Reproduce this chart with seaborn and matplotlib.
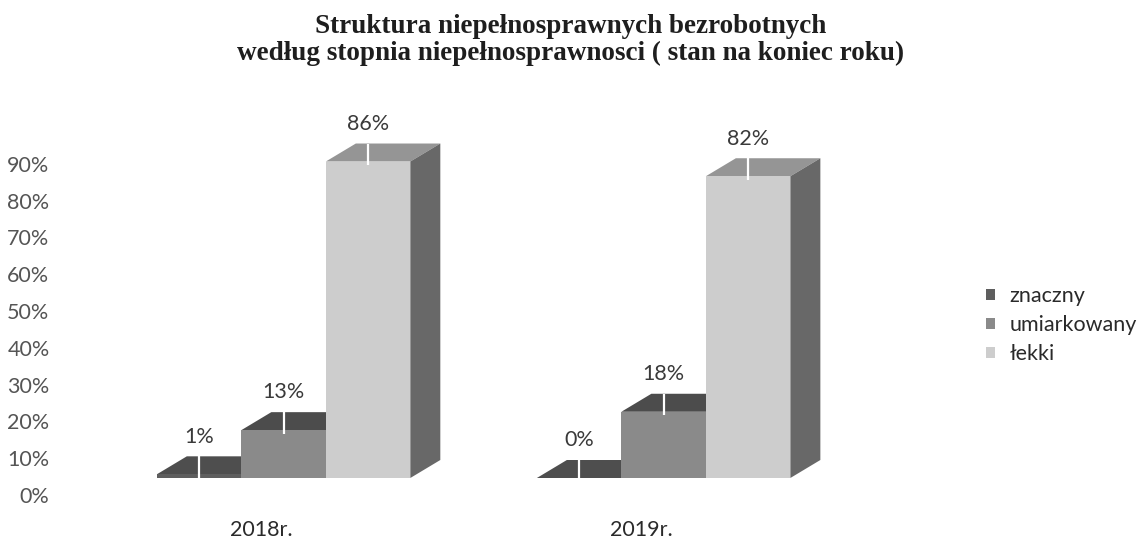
import matplotlib
matplotlib.use("Agg")
import matplotlib.pyplot as plt
import matplotlib.transforms as mtransforms
from matplotlib.patches import Polygon
import seaborn as sns
import pandas as pd

# ---- data ----
years = ["2018r.", "2019r."]
levels = ["znaczny", "umiarkowany", "łekki"]
znaczny = [0.01, 0.00]
umiarkowany = [0.13, 0.18]
lekki = [0.86, 0.82]
value_labels = {"znaczny": ["1%", "0%"], "umiarkowany": ["13%", "18%"], "łekki": ["86%", "82%"]}
y_ticks = [0, 0.1, 0.2, 0.3, 0.4, 0.5, 0.6, 0.7, 0.8, 0.9]
y_tick_labels = ["0%", "10%", "20%", "30%", "40%", "50%", "60%", "70%", "80%", "90%"]
title = "Struktura niepełnosprawnych bezrobotnych\nwedług stopnia niepełnosprawnosci ( stan na koniec roku)"

rows = []
for lvl, vals in zip(levels, [znaczny, umiarkowany, lekki]):
    for yr, v in zip(years, vals):
        rows.append({"rok": yr, "stopien": lvl, "wartosc": v})
df = pd.DataFrame(rows)

front_colors = {"znaczny": "#5e5e5e", "umiarkowany": "#8a8a8a", "łekki": "#cdcdcd"}
top_colors = {"znaczny": "#4e4e4e", "umiarkowany": "#4c4c4c", "łekki": "#959595"}
side_colors = {"znaczny": "#444444", "umiarkowany": "#5a5a5a", "łekki": "#686868"}

sns.set_theme(style="white")
plt.rcParams["font.family"] = ["Lato", "DejaVu Sans"]

W, H = 1142, 541
fig = plt.figure(figsize=(W / 100, H / 100), dpi=100)
ax_left, ax_right, ax_bottom = 62, 900, 478
px_per_unit_y = 368.0
ymax = 0.97
ax = fig.add_axes([ax_left / W, (H - ax_bottom) / H, (ax_right - ax_left) / W, ymax * px_per_unit_y / H])

sns.barplot(data=df, x="rok", y="wartosc", hue="stopien", order=years, hue_order=levels,
            palette=front_colors, width=0.667, ax=ax, saturation=1, linewidth=0,
            legend=True, zorder=3)

ax.set_xlim(-0.583, 1.622)
ax.set_ylim(0, ymax)

px_per_unit_x = (ax_right - ax_left) / (1.622 + 0.583)
dx = 30 / px_per_unit_x
dy = 18 / px_per_unit_y

# 3D-looking depth faces derived from the bars drawn by seaborn
for lvl, cont in zip(levels, ax.containers):
    for i, bar in enumerate(cont):
        x0 = bar.get_x()
        w = bar.get_width()
        h = bar.get_height()
        top = Polygon([(x0, h), (x0 + w, h), (x0 + w + dx, h + dy), (x0 + dx, h + dy)],
                      closed=True, facecolor=top_colors[lvl], edgecolor="none", zorder=2)
        side = Polygon([(x0 + w, 0), (x0 + w + dx, dy), (x0 + w + dx, h + dy), (x0 + w, h)],
                       closed=True, facecolor=side_colors[lvl], edgecolor="none", zorder=2)
        ax.add_patch(top)
        ax.add_patch(side)
        cx = x0 + w / 2
        # white leader line from label down through the top face
        ax.plot([cx, cx], [max(h - 0.01, 0), h + dy], color="white", lw=1.6, zorder=5,
                solid_capstyle="butt")
        ax.annotate(value_labels[lvl][i], (cx, h + dy), xytext=(0, 7),
                    textcoords="offset points", ha="center", va="bottom",
                    fontsize=15.5, color="#3a3a3a")

ax.set_yticks(y_ticks)
ax.set_yticklabels(y_tick_labels, fontsize=15.5, color="#555555")
ax.tick_params(axis="y", length=0, pad=9)
ax.tick_params(axis="x", length=0, pad=30)
for lab in ax.get_yticklabels():
    lab.set_transform(lab.get_transform() + mtransforms.ScaledTranslation(0, -17 / 100, fig.dpi_scale_trans))
for lab in ax.get_xticklabels():
    lab.set_fontsize(15.5)
    lab.set_color("#2a2a2a")
    lab.set_transform(lab.get_transform() + mtransforms.ScaledTranslation(-22.5 / 100, 0, fig.dpi_scale_trans))
ax.set_xlabel("")
ax.set_ylabel("")
for s in ax.spines.values():
    s.set_visible(False)

handles, labels = ax.get_legend_handles_labels()
ax.legend(handles, labels, loc="center left", bbox_to_anchor=(1.103, 0.428), frameon=False,
          fontsize=15.5, handlelength=0.42, handleheight=0.42, handletextpad=0.65,
          labelspacing=0.42, borderaxespad=0, borderpad=0, labelcolor="#2a2a2a")

fig.text(0.5, 0.975, title, ha="center", va="top", fontsize=19.5, fontweight="bold",
         family="Liberation Serif", color="#1e1e1e", linespacing=1.12)

fig.savefig("out.png", dpi=100)
